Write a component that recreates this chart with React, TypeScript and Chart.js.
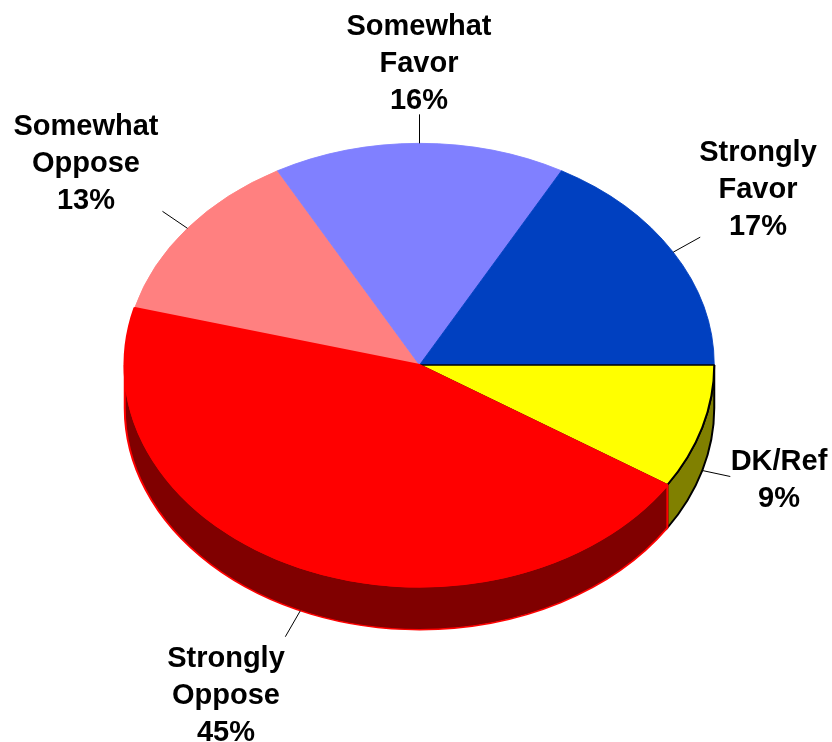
import React, { useEffect, useRef } from "react";
import { Chart, registerables } from "chart.js";

Chart.register(...registerables);

// Order is the drawing order: red comes last so it covers the yellow slice's edge on their shared side.
const categories = [
  ["Somewhat", "Oppose"],
  ["Somewhat", "Favor"],
  ["Strongly", "Favor"],
  ["DK/Ref"],
  ["Strongly", "Oppose"],
];
const values = [12.85, 16, 17, 9.1, 45.05];
const topColors = ["#ff8080", "#8080ff", "#0040c0", "#ffff00", "#ff0000"];
const edgeColors = ["#ff8080", "#8080ff", "#0040c0", "#000000", "#ff0000"];
const edgeWidths = [1, 1, 1, 2, 2.5];
const wallColors = ["#804040", "#404080", "#002060", "#808000", "#800000"];
const wallEdges = ["#ff8080", "#8080ff", "#0040c0", "#000000", "#ff0000"];

const TILT = 0.752;
const DEPTH = 43;
const START_DEG = 284.94;
const FONT_SIZE = 29;
const LINE_H = 37;
// Per-slice: leader end offset from the rim, label centre x, first baseline y.
const leaderEnds = [[-25, -17], [0, -29], [27, -15], [28, 6], [-15, 26]];
const labelX = [86, 419, 758, 779, 226];
const labelY = [134.5, 34.5, 161, 469.5, 666.5];

const tiltPlugin = {
  id: "tilt",
  beforeDatasetsDraw(chart: any) {
    const ctx = chart.ctx;
    const arcs = chart.getDatasetMeta(0).data;
    const { x: cx, y: cy } = arcs[0];
    ctx.save();
    ctx.translate(0, cy);
    ctx.scale(1, TILT);
    ctx.translate(0, -cy);
    const d = DEPTH / TILT;
    // Side walls, for the part of each slice that faces the viewer.
    arcs.forEach((a: any, i: number) => {
      const norm = (v: number) => {
        let n = v % (2 * Math.PI);
        if (n < 0) n += 2 * Math.PI;
        return n;
      };
      const s = norm(a.startAngle + 1e-6) - 1e-6;
      const e = s + (a.endAngle - a.startAngle);
      const from = Math.max(s, 0);
      const to = Math.min(e, Math.PI);
      if (to <= from) return;
      ctx.beginPath();
      ctx.arc(cx, cy, a.outerRadius, from, to);
      ctx.arc(cx, cy + d, a.outerRadius, to, from, true);
      ctx.closePath();
      ctx.fillStyle = wallColors[i];
      ctx.fill();
      ctx.strokeStyle = wallEdges[i];
      ctx.lineWidth = 2;
      ctx.stroke();
    });
  },
  afterDatasetsDraw(chart: any) {
    const ctx = chart.ctx;
    ctx.restore();
    const arcs = chart.getDatasetMeta(0).data;
    const total = values.reduce((p, v) => p + v, 0);
    arcs.forEach((a: any, i: number) => {
      const mid = (a.startAngle + a.endAngle) / 2;
      const sx = a.x + a.outerRadius * Math.cos(mid);
      const sin = Math.sin(mid);
      const sy = a.y + a.outerRadius * TILT * sin + (sin > 0 ? DEPTH : 0);
      ctx.beginPath();
      ctx.moveTo(sx, sy);
      ctx.lineTo(sx + leaderEnds[i][0], sy + leaderEnds[i][1]);
      ctx.strokeStyle = "#000000";
      ctx.lineWidth = 1;
      ctx.stroke();
      const lines = [...categories[i], `${Math.round((values[i] / total) * 100)}%`];
      ctx.font = `bold ${FONT_SIZE}px "Liberation Sans", Arial, sans-serif`;
      ctx.fillStyle = "#000000";
      ctx.textAlign = "center";
      ctx.textBaseline = "alphabetic";
      lines.forEach((t, j) => ctx.fillText(t, labelX[i], labelY[i] + j * LINE_H));
    });
  },
};

export default function App() {
  const ref = useRef<HTMLCanvasElement>(null);
  useEffect(() => {
    const chart = new Chart(ref.current!, {
      type: "pie",
      data: {
        labels: categories.map((c) => c.join(" ")),
        datasets: [
          {
            data: values,
            backgroundColor: topColors,
            borderColor: edgeColors,
            borderWidth: edgeWidths,
            clip: false,
          } as any,
        ],
      },
      options: {
        responsive: false,
        animation: false,
        rotation: START_DEG,
        layout: { padding: { left: 123.5, right: 116.5, top: 68.5, bottom: 80.5 } },
        plugins: { legend: { display: false }, tooltip: { enabled: false } },
      },
      plugins: [tiltPlugin],
    });
    return () => chart.destroy();
  }, []);
  return (
    <canvas
      ref={ref}
      width={832}
      height={742}
      style={{ position: "absolute", left: 0, top: 0, display: "block", background: "#ffffff" }}
    />
  );
}
